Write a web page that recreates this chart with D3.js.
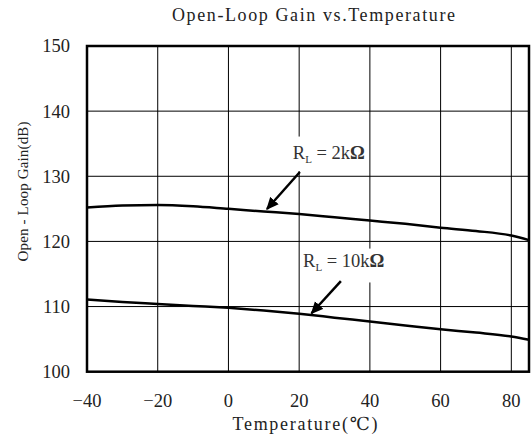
<!DOCTYPE html>
<html><head><meta charset="utf-8">
<script src="https://cdn.jsdelivr.net/npm/d3@7"></script>
<style>
body{margin:0;background:#fff}svg{display:block}
.serif{font-family:'Liberation Serif','Times New Roman','DejaVu Serif',serif}
</style>
</head><body>
<svg id="c" width="531" height="437"></svg>
<script>
const temps   = [-40,-30,-20,-10,0,10,20,30,40,50,60,70,80,85];
const gain2k  = [125.2,125.5,125.6,125.4,125.0,124.6,124.2,123.7,123.2,122.7,122.1,121.6,120.9,120.2];
const gain10k = [111.1,110.7,110.4,110.1,109.8,109.4,108.9,108.3,107.7,107.1,106.5,106.0,105.4,104.9];
const xTicks = [-40,-20,0,20,40,60,80];
const yTicks = [100,110,120,130,140,150];
const titleText = "Open-Loop Gain vs.Temperature";
const xTitle = "Temperature(\u2103)";
const yTitle = "Open - Loop Gain(dB)";
const annotations = [
  {label:"2k\u03A9", tx:18.2, ty:132.65, x1:20.2, y1:130.66, x2:10.9, y2:124.98, box:[16.3,136.1,38.3,130.8]},
  {label:"10k\u03A9", tx:21.1, ty:116.07, x1:31.8, y1:113.9, x2:23.5, y2:108.97, box:[21.0,118.9,47.0,113.7]}
];

const svg = d3.select("#c");
const x = d3.scaleLinear().domain([-40,85]).range([87,529]);
const y = d3.scaleLinear().domain([100,150]).range([371.7,46]);

// grid
svg.append("g").selectAll("line").data(xTicks.slice(1)).join("line")
  .attr("x1",d=>x(d)).attr("x2",d=>x(d)).attr("y1",y(100)).attr("y2",y(150))
  .attr("stroke","#000").attr("stroke-width",1);
svg.append("g").selectAll("line").data(yTicks.slice(1,-1)).join("line")
  .attr("x1",x(-40)).attr("x2",x(85)).attr("y1",d=>y(d)).attr("y2",d=>y(d))
  .attr("stroke","#000").attr("stroke-width",1);

// label boxes (white)
svg.append("g").selectAll("rect").data(annotations).join("rect")
  .attr("x",d=>x(d.box[0])).attr("y",d=>y(d.box[1]))
  .attr("width",d=>x(d.box[2])-x(d.box[0])).attr("height",d=>y(d.box[3])-y(d.box[1]))
  .attr("fill","#fff");

// curves
const line = d3.line().x(d=>x(d[0])).y(d=>y(d[1])).curve(d3.curveMonotoneX);
[gain2k,gain10k].forEach(s=>{
  svg.append("path").attr("d",line(temps.map((t,i)=>[t,s[i]])))
    .attr("fill","none").attr("stroke","#000").attr("stroke-width",2.5);
});

// frame
svg.append("rect").attr("x",x(-40)).attr("y",y(150)).attr("width",x(85)-x(-40)).attr("height",y(100)-y(150))
  .attr("fill","none").attr("stroke","#000").attr("stroke-width",2.5);

// arrows
svg.append("defs").append("marker").attr("id","ah").attr("viewBox","0 0 10 10")
  .attr("refX",9).attr("refY",5).attr("markerWidth",5).attr("markerHeight",5)
  .attr("markerUnits","strokeWidth").attr("orient","auto")
  .append("path").attr("d","M0,0.5 L10,5 L0,9.5 z").attr("fill","#000");
svg.append("g").selectAll("line").data(annotations).join("line")
  .attr("x1",d=>x(d.x1)).attr("y1",d=>y(d.y1)).attr("x2",d=>x(d.x2)).attr("y2",d=>y(d.y2))
  .attr("stroke","#000").attr("stroke-width",2.5).attr("marker-end","url(#ah)");

// annotation labels
const at = svg.append("g").selectAll("text").data(annotations).join("text")
  .attr("class","serif")
  .attr("x",d=>x(d.tx)).attr("y",d=>y(d.ty))
  .attr("font-size",18.5).attr("fill","#333");
at.append("tspan").text("R");
at.append("tspan").attr("font-size",11).attr("dy",4).text("L");
at.append("tspan").attr("dy",-4).text(" = ");
at.append("tspan").text(d=>d.label.replace("\u03A9",""));
at.append("tspan").attr("font-weight","bold").text("\u03A9");

// tick labels
svg.append("g").selectAll("text").data(yTicks).join("text")
  .attr("class","serif")
  .attr("x",70).attr("y",d=>y(d)).attr("dy","0.35em").attr("text-anchor","end")
  .attr("font-size",18.5).attr("fill","#222")
  .text(d=>d);
svg.append("g").selectAll("text").data(xTicks).join("text")
  .attr("class","serif")
  .attr("x",d=>x(d)).attr("y",407).attr("text-anchor","middle")
  .attr("font-size",18.5).attr("fill","#222")
  .text(d=>d<0?"\u2212"+Math.abs(d):d);

// titles
svg.append("text").attr("class","serif").attr("x",313.5).attr("y",21).attr("text-anchor","middle")
  .attr("font-size",18).attr("fill","#222")
  .attr("textLength",283).attr("lengthAdjust","spacing").text(titleText);
svg.append("text").attr("class","serif").attr("x",305).attr("y",430).attr("text-anchor","middle")
  .attr("font-size",18).attr("fill","#222")
  .attr("textLength",145).attr("lengthAdjust","spacing").text(xTitle);
svg.append("text").attr("class","serif").attr("transform","translate(28,191.5) rotate(-90)").attr("text-anchor","middle")
  .attr("font-size",15).attr("fill","#222")
  .attr("textLength",140).attr("lengthAdjust","spacing").text(yTitle);
</script>
</body></html>
